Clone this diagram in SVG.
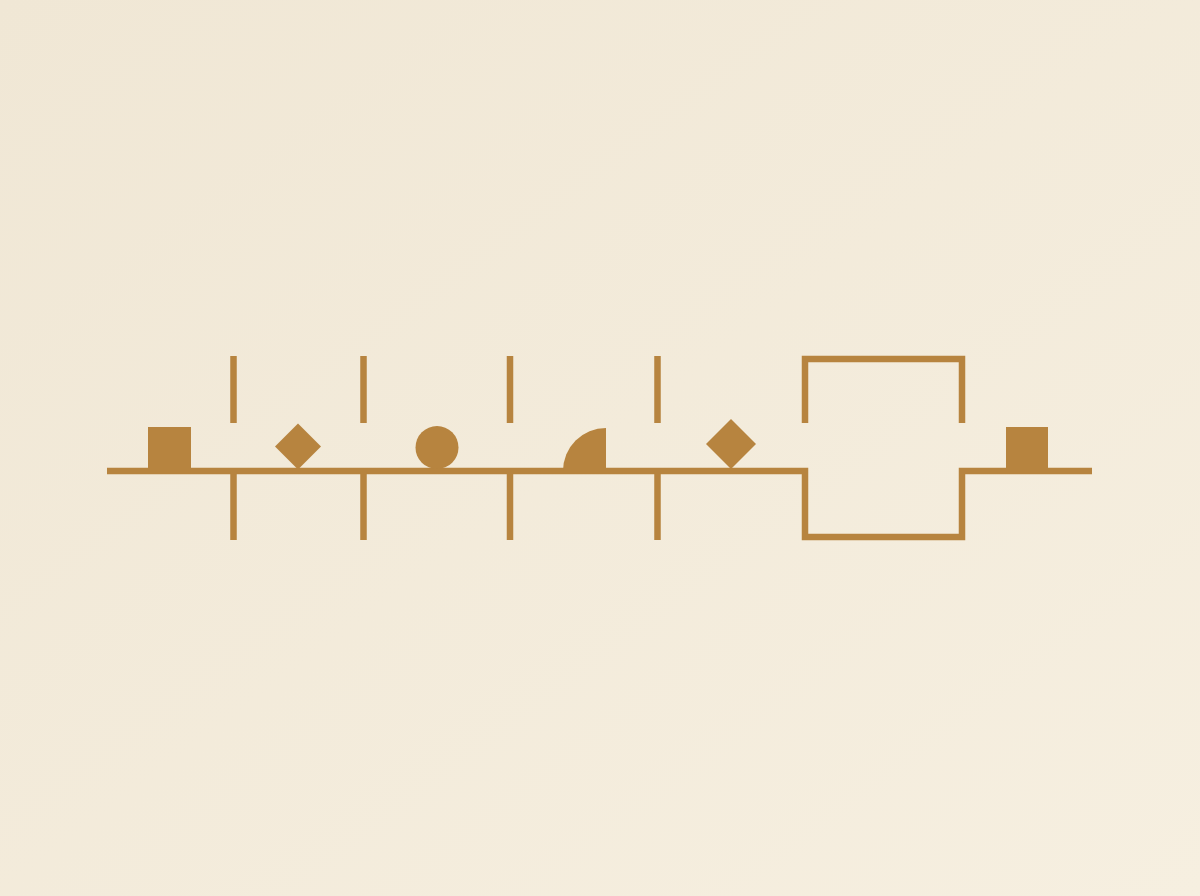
<svg xmlns="http://www.w3.org/2000/svg" width="1200" height="896" viewBox="0 0 1200 896">
<defs>
<linearGradient id="bg" x1="0" y1="0" x2="1" y2="1">
<stop offset="0" stop-color="#F0E7D5"/>
<stop offset="1" stop-color="#F6EFE0"/>
</linearGradient>
<style>
.ln{fill:none;stroke:#B7843F;stroke-width:6.5;stroke-linecap:butt;stroke-linejoin:miter}
.sh{fill:#B7843F;stroke:none}
</style>
</defs>
<rect width="1200" height="896" fill="url(#bg)"/>
<g id="connectors">
<path class="ln" d="M107 471 H805 V537 H962 V471 H1092"/>
<path class="ln" d="M805 423 V359 H962 V423"/>
<path class="ln" d="M233.5 356 V423 M233.5 471 V540"/>
<path class="ln" d="M363.5 356 V423 M363.5 471 V540"/>
<path class="ln" d="M510 356 V423 M510 471 V540"/>
<path class="ln" d="M657.5 356 V423 M657.5 471 V540"/>
</g>
<g id="square-left"><rect class="sh" x="148" y="427" width="43" height="44"/></g>
<g id="diamond-1"><polygon class="sh" points="298,423.5 321,446.5 298,469.5 275,446.5"/></g>
<g id="circle"><circle class="sh" cx="437" cy="447.5" r="21.5"/></g>
<g id="quarter-circle"><path class="sh" d="M563 471 A43 43 0 0 1 606 428 V471 Z"/></g>
<g id="diamond-2"><polygon class="sh" points="731,419 756,444 731,469 706,444"/></g>
<g id="square-right"><rect class="sh" x="1006" y="427" width="42" height="44"/></g>
</svg>
